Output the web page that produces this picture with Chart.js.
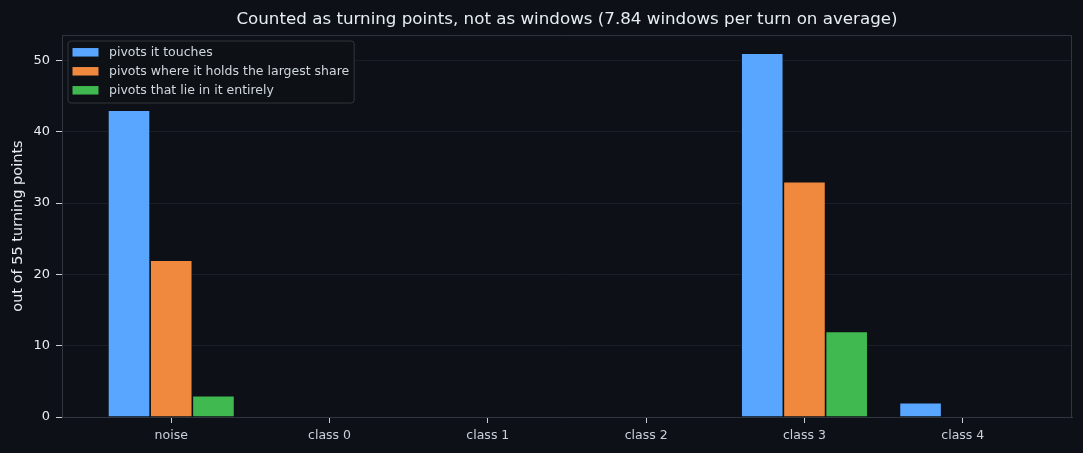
<!DOCTYPE html>
<html><head><meta charset="utf-8">
<script src="https://cdn.jsdelivr.net/npm/chart.js@4.4.1/dist/chart.umd.min.js"></script>
<style>html,body{margin:0;padding:0;background:#0d1117;overflow:hidden}#wrap{width:1083px;height:453px;position:relative}</style>
</head><body><div id="wrap"><canvas id="c"></canvas></div>
<script>
const categories = ['noise', 'class 0', 'class 1', 'class 2', 'class 3', 'class 4'];
const touches = [43, 0, 0, 0, 51, 2];
const largestShare = [22, 0, 0, 0, 33, 0];
const entirely = [3, 0, 0, 0, 12, 0];
const seriesNames = ['pivots it touches', 'pivots where it holds the largest share', 'pivots that lie in it entirely'];
const seriesColors = ['#58a6ff', '#f0883e', '#3fb950'];
const yTicks = [0, 10, 20, 30, 40, 50];
const yMax = 53.55;
const titleText = 'Counted as turning points, not as windows (7.84 windows per turn on average)';
const yLabel = 'out of 55 turning points';

const FAM = '"DejaVu Sans", sans-serif';
const BG = '#0d1117';
const SPINE = '#30363d';
const TEXT = '#e6edf3';

const seriesValues = [touches, largestShare, entirely];
const datasets = seriesValues.map((vals, i) => ({
  label: seriesNames[i],
  data: vals.map((v, j) => ({x: j, y: v})),
  backgroundColor: seriesColors[i],
  borderColor: BG,
  borderWidth: {top: 0.8, left: 0.8, right: 0.8, bottom: 0},
  borderSkipped: 'start',
  barPercentage: 1,
  categoryPercentage: 0.8
}));

// Legend drawn inside the plot area (upper left), from the chart's own datasets
const legendPlugin = {
  id: 'insideLegend',
  afterDatasetsDraw(chart) {
    const {ctx, chartArea: a} = chart;
    const dss = chart.data.datasets;
    ctx.save();
    ctx.font = '12.5px ' + FAM;
    const maxW = Math.max(...dss.map(d => ctx.measureText(d.label).width));
    const fx = a.left + 5.5, fy = a.top + 5.5;
    const boxX = fx + 5, textX = boxX + 36.5;
    const fw = textX + maxW + 4.5 - fx, fh = 62;
    ctx.beginPath();
    ctx.roundRect(fx + 0.5, fy + 0.5, fw, fh, 3);
    ctx.fillStyle = 'rgba(13,17,23,0.92)';
    ctx.fill();
    ctx.strokeStyle = SPINE;
    ctx.lineWidth = 1;
    ctx.stroke();
    ctx.textBaseline = 'middle';
    ctx.textAlign = 'left';
    dss.forEach((d, i) => {
      const cy = fy + 11.5 + i * 19;
      ctx.fillStyle = d.backgroundColor;
      ctx.fillRect(boxX, cy - 4, 26, 8.5);
      ctx.fillStyle = '#d0d7de';
      ctx.fillText(d.label, textX, cy + 0.5);
    });
    ctx.restore();
  }
};

const framePlugin = {
  id: 'frame',
  beforeDraw(chart) {
    const {ctx, chartArea: a} = chart;
    ctx.save();
    ctx.fillStyle = BG;
    ctx.fillRect(a.left, a.top, a.right - a.left, a.bottom - a.top);
    ctx.restore();
  },
  afterDraw(chart) {
    const {ctx, chartArea: a} = chart;
    ctx.save();
    ctx.strokeStyle = SPINE;
    ctx.lineWidth = 1;
    ctx.beginPath();
    ctx.moveTo(a.left, a.top + 0.5);
    ctx.lineTo(a.right - 0.5, a.top + 0.5);
    ctx.lineTo(a.right - 0.5, a.bottom);
    ctx.stroke();
    ctx.restore();
  }
};

new Chart(document.getElementById('c'), {
  type: 'bar',
  data: {datasets},
  plugins: [framePlugin, legendPlugin],
  options: {
    responsive: true,
    maintainAspectRatio: false,
    animation: false,
    devicePixelRatio: 1,
    layout: {padding: {left: 0, right: 11, top: 0, bottom: 0}},
    plugins: {
      title: {
        display: true, fullSize: false, text: titleText, color: TEXT,
        font: {family: FAM, size: 16.7, weight: 'normal'},
        padding: {top: 10, bottom: 5}
      },
      legend: {display: false},
      tooltip: {enabled: false}
    },
    scales: {
      x: {
        type: 'linear', min: -0.69, max: 5.69, offset: false,
        grid: {offset: false, drawOnChartArea: false, drawTicks: true, tickLength: 6, tickColor: '#c9d1d9'},
        border: {color: SPINE},
        ticks: {
          color: '#c9d1d9', font: {family: FAM, size: 12.5}, padding: 5,
          autoSkip: false, maxRotation: 0, includeBounds: false,
          callback: v => categories[v]
        },
        afterBuildTicks: s => { s.ticks = categories.map((_, i) => ({value: i})); },
        afterFit: s => { s.height = 36; }
      },
      y: {
        min: 0, max: yMax,
        grid: {color: '#1a1f27', tickColor: '#c9d1d9', tickLength: 6},
        border: {color: SPINE},
        ticks: {color: TEXT, font: {family: FAM, size: 13}, padding: 6, includeBounds: false},
        afterBuildTicks: s => { s.ticks = yTicks.map(v => ({value: v})); },
        title: {
          display: true, text: yLabel, color: TEXT,
          font: {family: FAM, size: 14.5}, padding: {top: 10, bottom: 10}
        },
        afterFit: s => { s.width = 62; }
      }
    }
  }
});
</script>
</body></html>
